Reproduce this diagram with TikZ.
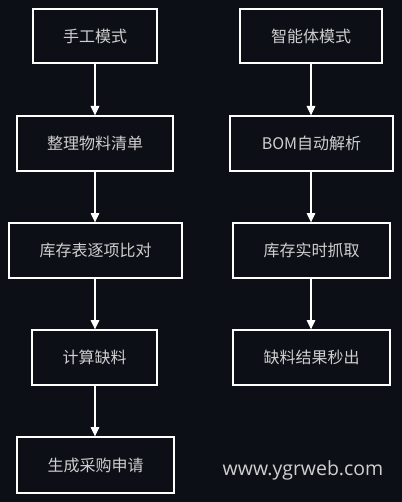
\documentclass[tikz,border=0pt]{standalone}
\usepackage{fontspec}
\setmainfont{Open Sans}
\newfontfamily\cjk{Noto Sans CJK SC}
\usetikzlibrary{arrows.meta}
\definecolor{bg}{HTML}{0C0F16}
\definecolor{txt}{HTML}{CFCFCF}
\begin{document}
\begin{tikzpicture}[x=0.75pt,y=-0.75pt,
  box/.style={draw=white, line width=1pt, fill=bg, text=txt, font=\cjk\fontsize{12}{14}\selectfont, inner sep=0pt},
  arr/.style={draw=white, line width=0.8pt, -{Triangle[length=7pt,width=6.5pt]}}]
\fill[bg] (0,0) rectangle (402,502);
\useasboundingbox (0,0) rectangle (402,502);
% left column
\node[box, minimum width=93pt, minimum height=40.5pt] (l1) at (95,36) {手工模式};
\node[box, minimum width=117pt, minimum height=41.25pt] (l2) at (95,143.5) {整理物料清单};
\node[box, minimum width=129.75pt, minimum height=41.25pt] (l3) at (95.5,250.5) {库存表逐项比对};
\node[box, minimum width=93.75pt, minimum height=41.25pt] (l4) at (94.5,357.5) {计算缺料};
\node[box, minimum width=117.75pt, minimum height=42pt] (l5) at (95.5,465) {生成采购申请};
% right column
\node[box, minimum width=106.5pt, minimum height=40.5pt] (r1) at (311,36) {智能体模式};
\node[box, minimum width=122.25pt, minimum height=41.25pt] (r2) at (311.5,143.5) {BOM自动解析};
\node[box, minimum width=117.75pt, minimum height=41.25pt] (r3) at (311.5,250.5) {库存实时抓取};
\node[box, minimum width=117.75pt, minimum height=41.25pt] (r4) at (311.5,357.5) {缺料结果秒出};
% watermark
\node[text=txt, font=\fontsize{14.6}{16}\selectfont, inner sep=0pt] (url) at (303,470) {www.ygrweb.com};
% arrows
\draw[arr] (l1.south -| 95,0) -- (l2.north -| 95,0);
\draw[arr] (l2.south -| 95,0) -- (l3.north -| 95,0);
\draw[arr] (l3.south -| 95,0) -- (l4.north -| 95,0);
\draw[arr] (l4.south -| 95,0) -- (l5.north -| 95,0);
\draw[arr] (r1.south -| 311,0) -- (r2.north -| 311,0);
\draw[arr] (r2.south -| 311,0) -- (r3.north -| 311,0);
\draw[arr] (r3.south -| 311,0) -- (r4.north -| 311,0);
\end{tikzpicture}
\end{document}
